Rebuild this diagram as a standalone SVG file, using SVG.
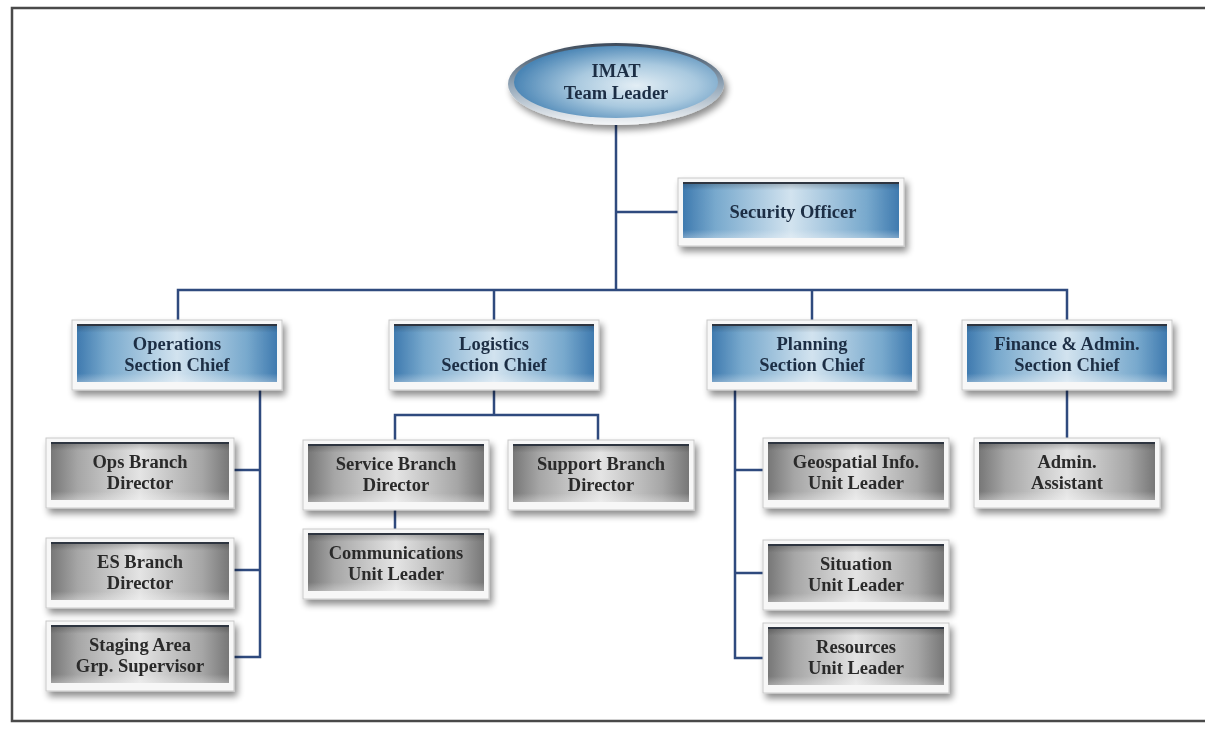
<svg xmlns="http://www.w3.org/2000/svg" width="1205" height="731" viewBox="0 0 1205 731">
<defs>
<linearGradient id="gBlue" x1="0" y1="0" x2="1" y2="0">
<stop offset="0" stop-color="#3f7aaf"/>
<stop offset="0.15" stop-color="#78a9cd"/>
<stop offset="0.5" stop-color="#d2e3ef"/>
<stop offset="0.85" stop-color="#78a9cd"/>
<stop offset="1" stop-color="#3f7aaf"/>
</linearGradient>
<linearGradient id="gGray" x1="0" y1="0" x2="1" y2="0">
<stop offset="0" stop-color="#777"/>
<stop offset="0.15" stop-color="#a6a6a6"/>
<stop offset="0.5" stop-color="#e4e4e4"/>
<stop offset="0.85" stop-color="#a6a6a6"/>
<stop offset="1" stop-color="#777"/>
</linearGradient>
<linearGradient id="gShade" x1="0" y1="0" x2="0" y2="1">
<stop offset="0" stop-color="#000" stop-opacity="0.25"/>
<stop offset="0.15" stop-color="#000" stop-opacity="0"/>
<stop offset="0.85" stop-color="#fff" stop-opacity="0"/>
<stop offset="1" stop-color="#fff" stop-opacity="0.3"/>
</linearGradient>
<radialGradient id="gEll" cx="0.6" cy="0.55" r="0.6">
<stop offset="0" stop-color="#e3eef5"/>
<stop offset="0.5" stop-color="#a9c9df"/>
<stop offset="1" stop-color="#4a85b5"/>
</radialGradient>
<linearGradient id="gRing" x1="0" y1="0" x2="0" y2="1">
<stop offset="0" stop-color="#3d4a5a"/>
<stop offset="0.5" stop-color="#8fa3b5"/>
<stop offset="1" stop-color="#f4f6f8"/>
</linearGradient>
<filter id="sh" x="-10%" y="-20%" width="125%" height="160%">
<feGaussianBlur in="SourceAlpha" stdDeviation="3.5"/>
<feOffset dx="3" dy="5" result="b"/>
<feComponentTransfer><feFuncA type="linear" slope="0.45"/></feComponentTransfer>
<feMerge><feMergeNode/><feMergeNode in="SourceGraphic"/></feMerge>
</filter>
</defs>
<style>
.frame{fill:#f7f7f7;stroke:#c9c9c9;stroke-width:1}
.blue{fill:url(#gBlue)}
.gray{fill:url(#gGray)}
.shade{fill:url(#gShade)}
.topl{stroke:#2f3540;stroke-width:2}
.t{font-family:"Liberation Serif",serif;font-weight:bold;font-size:18.5px;text-anchor:middle}
.tb{fill:#1e2f45}
.tg{fill:#2a2a2a}
.c{fill:none;stroke:#2f4a7e;stroke-width:2.5}
.border{fill:none;stroke:#4a4a4a;stroke-width:2.5}
</style>
<rect x="0" y="0" width="1205" height="731" fill="#ffffff"/>
<polyline class="border" points="1205,8 12,8 12,721 1205,721"/>

<g id="connectors">
<polyline class="c" points="616,124 616,290"/>
<polyline class="c" points="616,212 682,212"/>
<polyline class="c" points="178,322 178,290 1067,290 1067,322"/>
<polyline class="c" points="494,290 494,322"/>
<polyline class="c" points="812,290 812,322"/>
<polyline class="c" points="260,386 260,657 232,657"/>
<polyline class="c" points="232,470 260,470"/>
<polyline class="c" points="232,570 260,570"/>
<polyline class="c" points="494,386 494,415"/>
<polyline class="c" points="395,442 395,415 598,415 598,442"/>
<polyline class="c" points="395,507 395,531"/>
<polyline class="c" points="735,386 735,658 766,658"/>
<polyline class="c" points="735,470 766,470"/>
<polyline class="c" points="735,573 766,573"/>
<polyline class="c" points="1067,386 1067,440"/>
</g>

<g id="imat" filter="url(#sh)">
<ellipse cx="616" cy="84" rx="108" ry="41" fill="url(#gRing)"/>
<ellipse cx="616" cy="82" rx="102" ry="36" fill="url(#gEll)"/>
<text class="t tb" x="616" y="77">IMAT</text>
<text class="t tb" x="616" y="99">Team Leader</text>
</g>

<g id="security" filter="url(#sh)">
<rect class="frame" x="678" y="178" width="226" height="68"/>
<rect class="blue" x="683" y="182" width="216" height="56"/>
<rect class="shade" x="683" y="182" width="216" height="56"/>
<line class="topl" x1="683" y1="183" x2="899" y2="183"/>
<text class="t tb" x="793" y="218">Security Officer</text>
</g>

<g id="operations" filter="url(#sh)">
<rect class="frame" x="72" y="320" width="210" height="70"/>
<rect class="blue" x="77" y="324" width="200" height="58"/>
<rect class="shade" x="77" y="324" width="200" height="58"/>
<line class="topl" x1="77" y1="325" x2="277" y2="325"/>
<text class="t tb" x="177" y="350">Operations</text>
<text class="t tb" x="177" y="371">Section Chief</text>
</g>

<g id="logistics" filter="url(#sh)">
<rect class="frame" x="389" y="320" width="210" height="70"/>
<rect class="blue" x="394" y="324" width="200" height="58"/>
<rect class="shade" x="394" y="324" width="200" height="58"/>
<line class="topl" x1="394" y1="325" x2="594" y2="325"/>
<text class="t tb" x="494" y="350">Logistics</text>
<text class="t tb" x="494" y="371">Section Chief</text>
</g>

<g id="planning" filter="url(#sh)">
<rect class="frame" x="707" y="320" width="210" height="70"/>
<rect class="blue" x="712" y="324" width="200" height="58"/>
<rect class="shade" x="712" y="324" width="200" height="58"/>
<line class="topl" x1="712" y1="325" x2="912" y2="325"/>
<text class="t tb" x="812" y="350">Planning</text>
<text class="t tb" x="812" y="371">Section Chief</text>
</g>

<g id="finance" filter="url(#sh)">
<rect class="frame" x="962" y="320" width="210" height="70"/>
<rect class="blue" x="967" y="324" width="200" height="58"/>
<rect class="shade" x="967" y="324" width="200" height="58"/>
<line class="topl" x1="967" y1="325" x2="1167" y2="325"/>
<text class="t tb" x="1067" y="350">Finance &amp; Admin.</text>
<text class="t tb" x="1067" y="371">Section Chief</text>
</g>

<g id="ops-branch" filter="url(#sh)">
<rect class="frame" x="46" y="438" width="188" height="70"/>
<rect class="gray" x="51" y="442" width="178" height="58"/>
<rect class="shade" x="51" y="442" width="178" height="58"/>
<line class="topl" x1="51" y1="443" x2="229" y2="443"/>
<text class="t tg" x="140" y="468">Ops Branch</text>
<text class="t tg" x="140" y="489">Director</text>
</g>

<g id="es-branch" filter="url(#sh)">
<rect class="frame" x="46" y="538" width="188" height="70"/>
<rect class="gray" x="51" y="542" width="178" height="58"/>
<rect class="shade" x="51" y="542" width="178" height="58"/>
<line class="topl" x1="51" y1="543" x2="229" y2="543"/>
<text class="t tg" x="140" y="568">ES Branch</text>
<text class="t tg" x="140" y="589">Director</text>
</g>

<g id="staging" filter="url(#sh)">
<rect class="frame" x="46" y="621" width="188" height="70"/>
<rect class="gray" x="51" y="625" width="178" height="58"/>
<rect class="shade" x="51" y="625" width="178" height="58"/>
<line class="topl" x1="51" y1="626" x2="229" y2="626"/>
<text class="t tg" x="140" y="651">Staging Area</text>
<text class="t tg" x="140" y="672">Grp. Supervisor</text>
</g>

<g id="service" filter="url(#sh)">
<rect class="frame" x="303" y="440" width="186" height="70"/>
<rect class="gray" x="308" y="444" width="176" height="58"/>
<rect class="shade" x="308" y="444" width="176" height="58"/>
<line class="topl" x1="308" y1="445" x2="484" y2="445"/>
<text class="t tg" x="396" y="470">Service Branch</text>
<text class="t tg" x="396" y="491">Director</text>
</g>

<g id="support" filter="url(#sh)">
<rect class="frame" x="508" y="440" width="186" height="70"/>
<rect class="gray" x="513" y="444" width="176" height="58"/>
<rect class="shade" x="513" y="444" width="176" height="58"/>
<line class="topl" x1="513" y1="445" x2="689" y2="445"/>
<text class="t tg" x="601" y="470">Support Branch</text>
<text class="t tg" x="601" y="491">Director</text>
</g>

<g id="communications" filter="url(#sh)">
<rect class="frame" x="303" y="529" width="186" height="70"/>
<rect class="gray" x="308" y="533" width="176" height="58"/>
<rect class="shade" x="308" y="533" width="176" height="58"/>
<line class="topl" x1="308" y1="534" x2="484" y2="534"/>
<text class="t tg" x="396" y="559">Communications</text>
<text class="t tg" x="396" y="580">Unit Leader</text>
</g>

<g id="geospatial" filter="url(#sh)">
<rect class="frame" x="763" y="438" width="186" height="70"/>
<rect class="gray" x="768" y="442" width="176" height="58"/>
<rect class="shade" x="768" y="442" width="176" height="58"/>
<line class="topl" x1="768" y1="443" x2="944" y2="443"/>
<text class="t tg" x="856" y="468">Geospatial Info.</text>
<text class="t tg" x="856" y="489">Unit Leader</text>
</g>

<g id="situation" filter="url(#sh)">
<rect class="frame" x="763" y="540" width="186" height="70"/>
<rect class="gray" x="768" y="544" width="176" height="58"/>
<rect class="shade" x="768" y="544" width="176" height="58"/>
<line class="topl" x1="768" y1="545" x2="944" y2="545"/>
<text class="t tg" x="856" y="570">Situation</text>
<text class="t tg" x="856" y="591">Unit Leader</text>
</g>

<g id="resources" filter="url(#sh)">
<rect class="frame" x="763" y="623" width="186" height="70"/>
<rect class="gray" x="768" y="627" width="176" height="58"/>
<rect class="shade" x="768" y="627" width="176" height="58"/>
<line class="topl" x1="768" y1="628" x2="944" y2="628"/>
<text class="t tg" x="856" y="653">Resources</text>
<text class="t tg" x="856" y="674">Unit Leader</text>
</g>

<g id="admin-assistant" filter="url(#sh)">
<rect class="frame" x="974" y="438" width="186" height="70"/>
<rect class="gray" x="979" y="442" width="176" height="58"/>
<rect class="shade" x="979" y="442" width="176" height="58"/>
<line class="topl" x1="979" y1="443" x2="1155" y2="443"/>
<text class="t tg" x="1067" y="468">Admin.</text>
<text class="t tg" x="1067" y="489">Assistant</text>
</g>
</svg>
